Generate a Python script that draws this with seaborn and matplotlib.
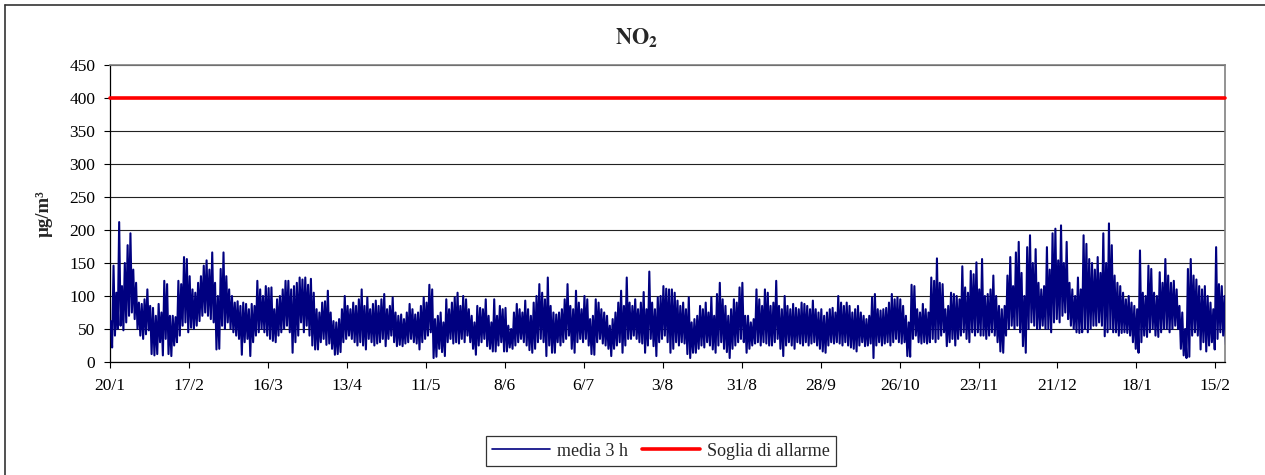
import numpy as np
import pandas as pd
import seaborn as sns
import matplotlib
matplotlib.use("Agg")
import matplotlib.pyplot as plt
from matplotlib.lines import Line2D

# daily high / low of the 3-hour averages (µg/m3), 20/1/2008 onwards
day_hi = [
    62, 146, 105, 212, 115, 150, 177, 195, 140, 120, 90, 88, 95, 110, 85, 82, 70, 88, 75, 123,
    118, 70, 70, 68, 123, 118, 159, 156, 130, 110, 105, 120, 130, 146, 154, 140, 166, 120, 100, 141,
    166, 130, 110, 100, 90, 92, 85, 90, 88, 80, 88, 85, 123, 110, 100, 115, 112, 113, 80, 95,
    100, 110, 123, 123, 110, 115, 120, 128, 125, 128, 117, 126, 105, 80, 75, 90, 92, 108, 75, 62,
    60, 65, 80, 100, 85, 80, 90, 85, 95, 110, 85, 98, 80, 88, 93, 85, 95, 103, 80, 85,
    98, 75, 70, 72, 65, 75, 88, 80, 72, 75, 85, 98, 90, 117, 110, 65, 70, 75, 60, 95,
    80, 90, 98, 105, 85, 100, 95, 80, 70, 60, 85, 82, 80, 95, 70, 60, 95, 70, 85, 80,
    82, 55, 50, 75, 88, 80, 75, 93, 80, 70, 90, 100, 118, 105, 95, 128, 85, 75, 72, 75,
    80, 95, 118, 85, 80, 108, 90, 80, 100, 95, 65, 70, 95, 90, 80, 75, 70, 55, 65, 75,
    90, 108, 85, 128, 90, 85, 95, 80, 90, 106, 80, 137, 90, 80, 98, 100, 115, 111, 110, 110,
    105, 93, 85, 90, 80, 98, 60, 65, 70, 85, 80, 90, 75, 98, 70, 103, 120, 95, 85, 70,
    80, 95, 90, 113, 120, 70, 70, 60, 65, 110, 95, 85, 110, 105, 85, 90, 123, 85, 80, 100,
    85, 80, 88, 82, 80, 90, 88, 85, 80, 93, 80, 75, 80, 70, 75, 80, 82, 75, 100, 90,
    85, 90, 85, 75, 80, 85, 75, 70, 65, 70, 98, 103, 80, 78, 80, 82, 90, 103, 95, 98,
    95, 85, 70, 60, 117, 115, 80, 75, 88, 80, 75, 128, 123, 157, 120, 118, 80, 85, 105, 103,
    100, 95, 145, 113, 105, 138, 133, 151, 110, 156, 100, 103, 110, 131, 100, 85, 80, 85, 131, 159,
    115, 166, 182, 135, 100, 174, 192, 150, 171, 120, 110, 115, 174, 140, 195, 202, 154, 207, 150, 182,
    120, 110, 100, 128, 110, 192, 179, 156, 150, 140, 159, 135, 195, 150, 210, 177, 131, 120, 115, 105,
    95, 100, 90, 85, 80, 169, 105, 100, 146, 141, 105, 100, 136, 120, 156, 131, 120, 123, 110, 85,
    75, 50, 141, 156, 131, 125, 115, 110, 115, 100, 90, 80, 174, 118, 115, 100,
]
day_lo = [
    22, 40, 50, 55, 48, 60, 70, 75, 65, 50, 40, 35, 42, 48, 12, 10, 12, 30, 10, 35,
    12, 9, 25, 30, 40, 55, 60, 45, 52, 50, 55, 62, 70, 75, 70, 65, 60, 19, 20, 55,
    50, 60, 50, 45, 40, 35, 11, 30, 35, 9, 30, 40, 45, 50, 45, 40, 35, 32, 30, 40,
    45, 50, 55, 45, 14, 30, 40, 60, 45, 55, 40, 25, 19, 19, 30, 35, 26, 28, 20, 11,
    12, 15, 30, 35, 40, 35, 30, 25, 30, 25, 19, 35, 30, 25, 28, 30, 35, 24, 35, 40,
    30, 24, 26, 24, 28, 30, 35, 30, 28, 19, 30, 35, 40, 45, 6, 8, 20, 15, 9, 30,
    35, 28, 30, 28, 35, 30, 40, 30, 20, 11, 25, 30, 35, 24, 20, 16, 16, 25, 30, 16,
    16, 22, 20, 25, 30, 35, 30, 25, 18, 14, 20, 30, 35, 30, 9, 25, 14, 14, 30, 25,
    30, 35, 40, 20, 14, 30, 35, 30, 35, 25, 12, 11, 30, 35, 28, 25, 20, 9, 20, 25,
    30, 14, 25, 35, 35, 40, 35, 30, 28, 14, 25, 35, 24, 9, 30, 35, 40, 30, 14, 20,
    30, 25, 30, 28, 12, 6, 14, 14, 20, 25, 22, 30, 25, 19, 14, 25, 30, 20, 15, 6,
    20, 25, 30, 35, 30, 14, 20, 25, 28, 30, 25, 30, 28, 25, 25, 30, 35, 20, 9, 25,
    30, 25, 20, 30, 28, 25, 30, 25, 28, 30, 25, 20, 16, 14, 25, 30, 28, 30, 28, 25,
    30, 25, 22, 20, 16, 25, 30, 24, 25, 28, 6, 25, 30, 25, 28, 30, 25, 30, 35, 30,
    28, 30, 9, 8, 35, 40, 30, 28, 30, 28, 30, 35, 30, 35, 40, 45, 24, 30, 35, 25,
    35, 40, 45, 35, 30, 45, 40, 45, 40, 40, 35, 40, 45, 40, 30, 16, 14, 40, 50, 55,
    50, 55, 45, 24, 14, 50, 60, 55, 50, 50, 55, 50, 50, 45, 60, 65, 60, 70, 75, 65,
    55, 50, 45, 44, 45, 50, 45, 50, 55, 55, 60, 55, 39, 45, 50, 45, 45, 40, 44, 45,
    44, 40, 30, 20, 14, 30, 40, 38, 45, 50, 40, 38, 45, 50, 50, 45, 50, 55, 50, 20,
    10, 6, 8, 40, 45, 40, 19, 30, 16, 25, 30, 19, 35, 45, 40, 26,
]
start_date = "2008-01-20"
threshold = 400
tick_labels = ["20/1", "17/2", "16/3", "13/4", "11/5", "8/6", "6/7", "3/8",
               "31/8", "28/9", "26/10", "23/11", "21/12", "18/1", "15/2"]

# two readings per day: the high in the morning, the low in the evening
values = np.column_stack([day_hi, day_lo]).ravel()
times = pd.date_range(pd.Timestamp(start_date) + pd.Timedelta(hours=6),
                      periods=len(values), freq="12h")
df = pd.DataFrame({"time": times, "no2": values})

sns.set_theme(style="white")
plt.rcParams["font.family"] = ["Liberation Serif", "DejaVu Serif"]
plt.rcParams["mathtext.fontset"] = "stix"

fig = plt.figure(figsize=(12.65, 4.75), dpi=100)
ax = fig.add_axes([110 / 1265, 1 - 362 / 475, 1115 / 1265, 297 / 475])

sns.lineplot(data=df, x="time", y="no2", ax=ax, color="#000080", lw=1.5, zorder=3)
ax.axhline(threshold, color="#ff0000", lw=2.6, zorder=4, clip_on=False)

t0 = pd.Timestamp(start_date)
ax.set_xlim(t0, t0 + pd.Timedelta(days=395.4))
ax.set_ylim(0, 450)
ax.set_yticks(np.arange(0, 451, 50))
ax.set_xticks(pd.date_range(t0, periods=len(tick_labels), freq="28D"))
ax.set_xticklabels(tick_labels)

ax.grid(axis="y", color="#222222", lw=0.8)
ax.set_axisbelow(True)
ax.tick_params(axis="both", labelsize=12.5, colors="black", direction="out",
               length=4.5, width=0.8, left=True, bottom=True)
ax.tick_params(axis="x", pad=7)
ax.tick_params(axis="y", pad=6)
for s in ["left", "bottom"]:
    ax.spines[s].set_color("black")
    ax.spines[s].set_linewidth(0.9)
for s in ["top", "right"]:
    ax.spines[s].set_color("#808080")
    ax.spines[s].set_linewidth(1.2)

ax.set_xlabel("")
ax.set_ylabel("µg/m³", fontsize=13.5, fontweight="bold", labelpad=12)
fig.text(637 / 1265, 1 - 38 / 475, r"$\mathbf{NO_2}$", ha="center", va="center", fontsize=16)

handles = [Line2D([], [], color="#000080", lw=1.2),
           Line2D([], [], color="#ff0000", lw=2.6)]
leg = fig.legend(handles, ["media 3 h", "Soglia di allarme"], loc="center",
                 bbox_to_anchor=(661 / 1265, 1 - 451 / 475), ncol=2, fontsize=13,
                 frameon=True, fancybox=False, edgecolor="black", handlelength=3.2,
                 handletextpad=0.4, columnspacing=0.8, borderpad=0.35)
leg.get_frame().set_linewidth(0.9)

# outer chart border (top and left visible)
fig.add_artist(Line2D([5 / 1265, 5 / 1265], [0, 1 - 5 / 475], transform=fig.transFigure,
                      color="#333333", lw=1.2))
fig.add_artist(Line2D([5 / 1265, 1], [1 - 5 / 475, 1 - 5 / 475], transform=fig.transFigure,
                      color="#333333", lw=1.2))

fig.savefig("out.png", dpi=100, facecolor="white")
